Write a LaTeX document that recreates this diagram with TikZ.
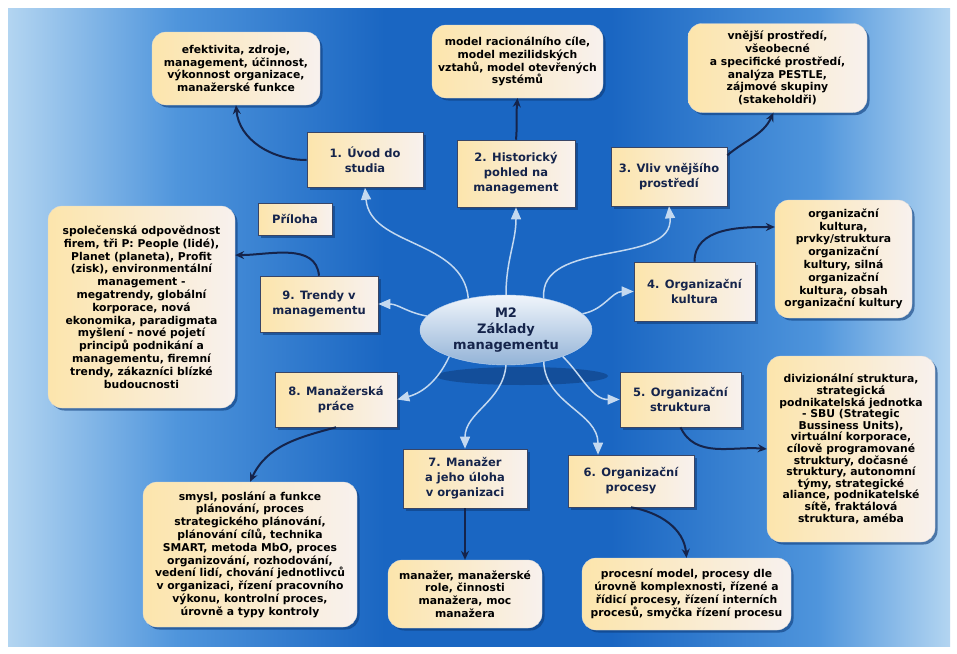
\documentclass[tikz,border=0pt]{standalone}
\usepackage{fontspec}
\setmainfont{DejaVu Sans}
\usetikzlibrary{shapes.geometric,shadows,arrows.meta}
\definecolor{bglight}{HTML}{B3D5F1}
\definecolor{bgmid}{HTML}{4F95DC}
\definecolor{bgdark}{HTML}{1A66C2}
\definecolor{boxleft}{HTML}{FCE5AC}
\definecolor{boxright}{HTML}{F8F1EE}
\definecolor{navy}{HTML}{15244B}
\definecolor{pale}{HTML}{C4D9F0}
\definecolor{elltop}{HTML}{F0F5FB}
\definecolor{ellbot}{HTML}{93B3D7}
\definecolor{shadowblue}{HTML}{0E3C7A}
\pgfdeclarehorizontalshading{bgshade}{100bp}{color(0bp)=(bglight); color(25bp)=(bglight);
  color(34bp)=(bgmid); color(45bp)=(bgdark); color(57bp)=(bgdark); color(68bp)=(bgmid);
  color(75bp)=(bglight); color(100bp)=(bglight)}
\tikzset{
  sz/.style 2 args={minimum width=#1pt, minimum height=#2pt},
  topic/.style={draw=navy!85, line width=0.6pt, left color=boxleft, right color=boxright,
    text=navy, font=\fontsize{11.5}{15}\selectfont\bfseries, align=center, inner sep=1pt,
    drop shadow={shadow xshift=2.5pt, shadow yshift=-2.5pt, fill=shadowblue, opacity=.6}},
  detail/.style={draw=white!85!black, line width=0.3pt, rounded corners=14pt,
    left color=boxleft, right color=boxright, text=black,
    font=\fontsize{10.8}{12.8}\selectfont\bfseries, align=center, inner sep=1pt,
    drop shadow={shadow xshift=2.5pt, shadow yshift=-2.5pt, fill=shadowblue, opacity=.6}},
  hub/.style={ellipse, draw=white!70!bgdark, line width=0.4pt, top color=elltop, bottom color=ellbot,
    text=navy, font=\fontsize{13}{16}\selectfont\bfseries, align=center, inner sep=0pt},
  darr/.style={navy, line width=2pt, -{Stealth[length=9pt, width=8pt]}},
  larr/.style={pale, line width=1.5pt, -{Triangle[length=12pt, width=10pt]}},
}
\begin{document}
\begin{tikzpicture}[x=1pt, y=1pt]
  \useasboundingbox (0,0) rectangle (957,-653);
  \fill[white] (0,0) rectangle (957,-653);
  \shade[shading=bgshade] (8,-8) rectangle (950,-646);
  \fill[shadowblue, opacity=.55] (522,-376) ellipse [x radius=86pt, y radius=9pt];

  \node[hub, sz={172}{70}] (m) at (506,-330) {M2\\Základy\\managementu};

  \node[topic, sz={116}{55}] (n1) at (365,-160) {1. Úvod do\\studia};
  \node[topic, sz={118}{67}] (n2) at (516,-173.5) {2. Historický\\pohled na\\management};
  \node[topic, sz={116}{59}] (n3) at (669,-176.5) {3. Vliv vnějšího\\prostředí};
  \node[topic, sz={121}{59}] (n4) at (694.5,-291.5) {4. Organizační\\kultura};
  \node[topic, sz={121}{55}] (n5) at (680.5,-399.5) {5. Organizační\\struktura};
  \node[topic, sz={126}{52}] (n6) at (631,-481) {6. Organizační\\procesy};
  \node[topic, sz={124}{59}] (n7) at (465,-478.5) {7. Manažer\\a jeho úloha\\v organizaci};
  \node[topic, sz={122}{55}] (n8) at (336,-399.5) {8. Manažerská\\práce};
  \node[topic, sz={118}{56}] (n9) at (319,-304) {9. Trendy v\\managementu};
  \node[topic, sz={74}{32}] (pril) at (295,-219) {Příloha};

  \node[detail, sz={168}{73}] (d1) at (236,-68.5)
    {efektivita, zdroje,\\management, účinnost,\\výkonnost organizace,\\manažerské funkce};
  \node[detail, sz={171}{73}] (d2) at (517.5,-61.5)
    {model racionálního cíle,\\model mezilidských\\vztahů, model otevřených\\systémů};
  \node[detail, sz={179}{89}] (d3) at (777.5,-68)
    {vnější prostředí,\\všeobecné\\a specifické prostředí,\\analýza PESTLE,\\zájmové skupiny\\(stakeholdři)};
  \node[detail, sz={137}{118}] (d4) at (843.5,-259)
    {organizační\\kultura,\\prvky/struktura\\organizační\\kultury, silná\\organizační\\kultura, obsah\\organizační kultury};
  \node[detail, sz={168}{186}, font=\fontsize{10.8}{11.6}\selectfont\bfseries] (d5) at (851,-449)
    {divizionální struktura,\\strategická\\podnikatelská jednotka\\- SBU (Strategic\\Bussiness Units),\\virtuální korporace,\\cílově programované\\struktury, dočasné\\struktury, autonomní\\týmy, strategické\\aliance, podnikatelské\\sítě, fraktálová\\struktura, améba};
  \node[detail, sz={209}{72}] (d6) at (686.5,-594)
    {procesní model, procesy dle\\úrovně komplexnosti, řízené a\\řídicí procesy, řízení interních\\procesů, smyčka řízení procesu};
  \node[detail, sz={154}{68}] (d7) at (465,-594)
    {manažer, manažerské\\role, činnosti\\manažera, moc\\manažera};
  \node[detail, sz={214}{145}] (d8) at (250,-554.5)
    {smysl, poslání a funkce\\plánování, proces\\strategického plánování,\\plánování cílů, technika\\SMART, metoda MbO, proces\\organizování, rozhodování,\\vedení lidí, chování jednotlivců\\v organizaci, řízení pracovního\\výkonu, kontrolní proces,\\úrovně a typy kontroly};
  \node[detail, sz={187}{202}] (d9) at (141.5,-307)
    {společenská odpovědnost\\firem, tři P: People (lidé),\\Planet (planeta), Profit\\(zisk), environmentální\\management -\\megatrendy, globální\\korporace, nová\\ekonomika, paradigmata\\myšlení - nové pojetí\\principů podnikání a\\managementu, firemní\\trendy, zákazníci blízké\\budoucnosti};

  \draw[larr] (m.140) to[out=95,in=-85] (n1.south);
  \draw[larr] (m.90) to[out=90,in=-90] (n2.south);
  \draw[larr] (m.40) to[out=95,in=-85] (n3.south);
  \draw[larr] (m.12) to[out=10,in=180] (n4.west);
  \draw[larr] (m.335) to[out=-45,in=180] (n5.west);
  \draw[larr] (m.320) to[out=-88,in=90] ([xshift=-33pt]n6.north);
  \draw[larr] (m.270) to[out=-95,in=90] (n7.north);
  \draw[larr] (m.205) to[out=-115,in=15] (n8.east);
  \draw[larr] (m.170) to[out=170,in=0] (n9.east);

  \draw[darr] (n1.west) to[out=180,in=-85] (d1.south);
  \draw[darr] (n2.north) to[out=85,in=-95] (d2.south);
  \draw[darr] (n3.20) to[out=40,in=-115] ([xshift=-4pt]d3.south);
  \draw[darr] (n4.north) to[out=90,in=180] (d4.155);
  \draw[darr] (n5.south) to[out=-65,in=175] (d5.west);
  \draw[darr] (n6.south) to[out=-10,in=95] (d6.north);
  \draw[darr] (n7.south) -- (d7.north);
  \draw[darr] (n8.south) to[out=195,in=65] (d8.north);
  \draw[darr] (n9.north) to[out=95,in=0] (d9.29);
\end{tikzpicture}
\end{document}
